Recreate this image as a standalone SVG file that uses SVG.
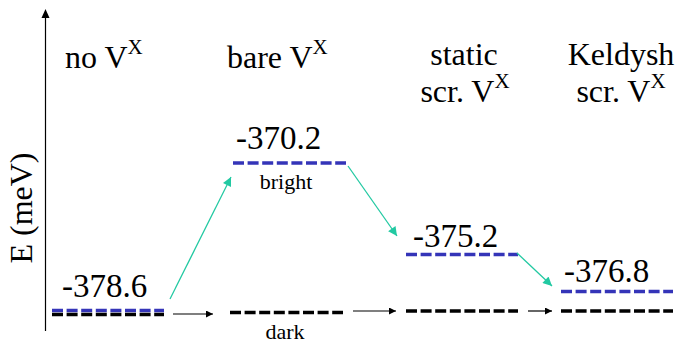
<svg xmlns="http://www.w3.org/2000/svg" width="682" height="344" viewBox="0 0 682 344">
<style>
text{font-family:'Liberation Serif','Times New Roman',serif;fill:#000}
.h{font-size:32px}
.n{font-size:33px}
.s{font-size:21px}
.lab{font-size:22px}
.blue{stroke:#3434b8;stroke-width:3.5;stroke-dasharray:11 3.6;fill:none}
.black{stroke:#000;stroke-width:3.5;stroke-dasharray:11 3.6;fill:none}
.k{stroke:#000;stroke-width:1.2;fill:none}
.t{stroke:#22c9a2;stroke-width:1.3;fill:none}
</style>
<defs>
<marker id="ak" viewBox="0 0 10 10" refX="10" refY="5" markerWidth="8" markerHeight="7" markerUnits="userSpaceOnUse" orient="auto"><path d="M0,0 L10,5 L0,10 Z" fill="#000"/></marker>
<marker id="at" viewBox="0 0 10 10" refX="10" refY="5" markerWidth="11" markerHeight="9" markerUnits="userSpaceOnUse" orient="auto"><path d="M0,0 L10,5 L0,10 Z" fill="#22c9a2"/></marker>
</defs>
<rect width="682" height="344" fill="#fff"/>
<g id="axis">
<line x1="45.5" y1="331" x2="45.5" y2="16" stroke="#000" stroke-width="1.2"/>
<path d="M45.5,9 L49.5,18 L41.5,18 Z" fill="#000"/>
<text class="h" transform="translate(32,208) rotate(-90)" text-anchor="middle">E (meV)</text>
</g>
<g id="noVx">
<text class="h" x="65" y="68">no V<tspan class="s" dy="-14">X</tspan></text>
<text class="n" x="62" y="297">-378.6</text>
<line class="blue" x1="52" y1="310.5" x2="164" y2="310.5"/>
<line class="black" x1="52" y1="314.5" x2="164" y2="314.5"/>
</g>
<g id="bareVx">
<text class="h" x="227" y="68">bare V<tspan class="s" dy="-14">X</tspan></text>
<text class="n" x="236" y="149">-370.2</text>
<line class="blue" x1="233" y1="163" x2="346" y2="163"/>
<text class="lab" x="286" y="189" text-anchor="middle">bright</text>
<line class="black" x1="230" y1="312.5" x2="343" y2="312.5"/>
<text class="lab" x="285" y="339" text-anchor="middle">dark</text>
</g>
<g id="staticVx">
<text class="h" x="464" y="65" text-anchor="middle">static</text>
<text class="h" x="465" y="102" text-anchor="middle">scr. V<tspan class="s" dy="-14">X</tspan></text>
<text class="n" x="413" y="247">-375.2</text>
<line class="blue" x1="406" y1="254.5" x2="518" y2="254.5"/>
<line class="black" x1="406" y1="311" x2="518" y2="311"/>
</g>
<g id="keldyshVx">
<text class="h" x="621" y="65" text-anchor="middle">Keldysh</text>
<text class="h" x="621" y="102" text-anchor="middle">scr. V<tspan class="s" dy="-14">X</tspan></text>
<text class="n" x="564" y="282">-376.8</text>
<line class="blue" x1="561" y1="291.5" x2="673" y2="291.5"/>
<line class="black" x1="561" y1="311" x2="673" y2="311"/>
</g>
<g id="connectors">
<line class="k" x1="173" y1="314" x2="213" y2="314" marker-end="url(#ak)"/>
<line class="k" x1="353" y1="311" x2="396" y2="311" marker-end="url(#ak)"/>
<line class="k" x1="528" y1="311" x2="552" y2="311" marker-end="url(#ak)"/>
<line class="t" x1="170" y1="299" x2="231" y2="177" marker-end="url(#at)"/>
<line class="t" x1="348" y1="166" x2="397" y2="236" marker-end="url(#at)"/>
<line class="t" x1="517" y1="253" x2="552" y2="286" marker-end="url(#at)"/>
</g>
</svg>
